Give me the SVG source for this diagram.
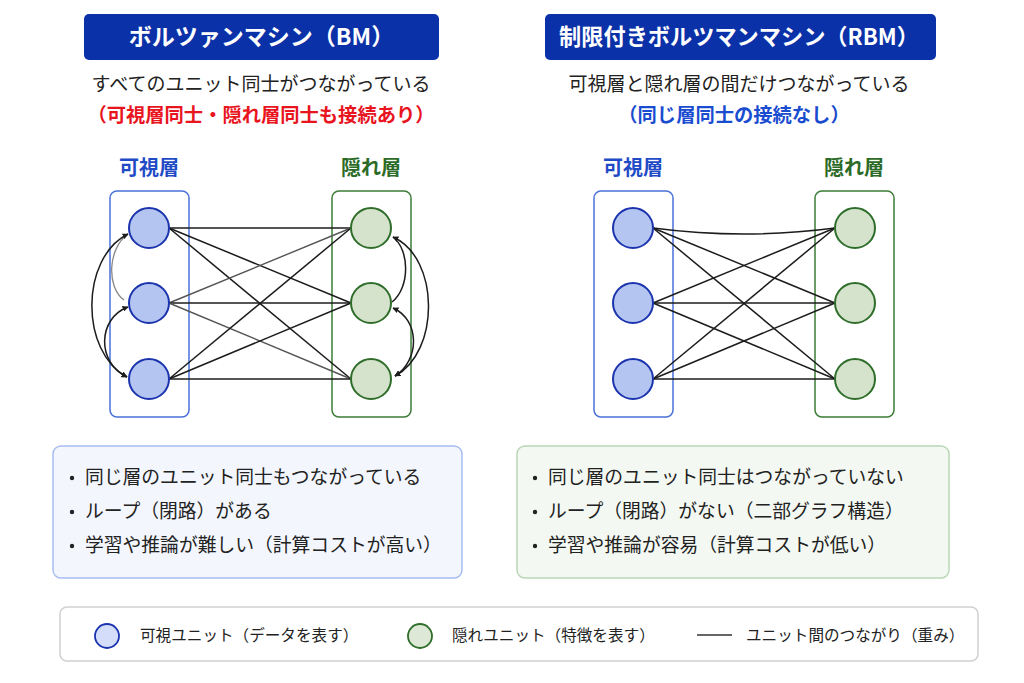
<svg xmlns="http://www.w3.org/2000/svg" width="1024" height="683" viewBox="0 0 1024 683">
<defs>
<style>
text{font-family:"Noto Sans CJK JP","Noto Sans",sans-serif;}
.title{fill:#ffffff;font-size:23px;font-weight:bold;}
.tbox{fill:#0b31a8;}
.sub{fill:#222;font-size:19px;}
.red{fill:#e8141e;font-size:19.3px;font-weight:bold;}
.blu{fill:#1a4cd0;font-size:19.3px;font-weight:bold;}
.vl{fill:#1f4bc6;font-size:20px;font-weight:bold;}
.hl{fill:#2b6b27;font-size:20px;font-weight:bold;}
.vbox{fill:none;stroke:#4a72d8;stroke-width:1.5;}
.hbox{fill:none;stroke:#3d7d38;stroke-width:1.5;}
.vc{fill:#b4c5f1;stroke:#1b34ae;stroke-width:2;}
.hc{fill:#d5e3cc;stroke:#2f6e2a;stroke-width:2;}
.ln{stroke:#1c1c1c;stroke-width:1.5;fill:none;}
.lg{stroke:#555;stroke-width:1.4;fill:none;}
.arc{stroke:#1c1c1c;stroke-width:1.5;fill:none;marker-start:url(#ah);marker-end:url(#ah);}
.bt{fill:#222;font-size:18.8px;}
.lt{fill:#222;font-size:15.6px;}
</style>
<marker id="ah" viewBox="0 0 10 10" refX="9" refY="5" markerWidth="6" markerHeight="6" orient="auto-start-reverse" markerUnits="userSpaceOnUse">
<path d="M0,0 L10,5 L0,10 z" fill="#1c1c1c"/>
</marker>
</defs>
<rect width="1024" height="683" fill="#ffffff"/>

<!-- BM header -->
<g id="bm-title">
<rect class="tbox" x="84" y="14" width="355" height="46" rx="5"/>
<text class="title" x="261.5" y="45" text-anchor="middle">ボルツァンマシン（BM）</text>
<text class="sub" x="261" y="91" text-anchor="middle">すべてのユニット同士がつながっている</text>
<text class="red" x="261" y="122" text-anchor="middle">（可視層同士・隠れ層同士も接続あり）</text>
</g>

<!-- RBM header -->
<g id="rbm-title">
<rect class="tbox" x="545" y="14" width="391" height="46" rx="5"/>
<text class="title" x="739" y="45" text-anchor="middle" style="font-size:22.2px">制限付きボルツマンマシン（RBM）</text>
<text class="sub" x="739" y="91" text-anchor="middle">可視層と隠れ層の間だけつながっている</text>
<text class="blu" x="734" y="122" text-anchor="middle">（同じ層同士の接続なし）</text>
</g>

<!-- BM layers -->
<g id="bm-visible">
<text class="vl" x="149" y="175" text-anchor="middle">可視層</text>
<rect class="vbox" x="110" y="191" width="79" height="226" rx="7"/>
</g>
<g id="bm-hidden">
<text class="hl" x="371" y="175" text-anchor="middle">隠れ層</text>
<rect class="hbox" x="332" y="191" width="79" height="226" rx="7"/>
</g>

<!-- BM connectors -->
<g id="bm-connectors">
<line class="ln" x1="169" y1="228" x2="351" y2="228"/>
<line class="ln" x1="169" y1="228" x2="351" y2="303"/>
<line class="ln" x1="169" y1="228" x2="351" y2="379"/>
<line class="lg" x1="169" y1="303" x2="351" y2="228"/>
<line class="ln" x1="169" y1="303" x2="351" y2="303"/>
<line class="lg" x1="169" y1="303" x2="351" y2="379"/>
<line class="ln" x1="169" y1="379" x2="351" y2="228"/>
<line class="ln" x1="169" y1="379" x2="351" y2="303"/>
<line class="ln" x1="169" y1="379" x2="351" y2="379"/>
<path d="M124,300 C106,287 108,248 128,234" stroke="#888" stroke-width="1.3" fill="none"/>
<path class="arc" d="M128,234 C80,258 80,352 127,377"/>
<path class="arc" d="M128,307 C98,318 96,362 127,377"/>
<path d="M392,302 C410,288 410,250 393,237" stroke="#1c1c1c" stroke-width="1.5" fill="none"/>
<path class="arc" d="M393,237 C440,258 440,352 395,376"/>
<path class="arc" d="M393,308 C420,320 420,360 395,376"/>
</g>

<!-- BM nodes -->
<g id="bm-v1"><circle class="vc" cx="149" cy="228" r="20"/></g>
<g id="bm-v2"><circle class="vc" cx="149" cy="303" r="20"/></g>
<g id="bm-v3"><circle class="vc" cx="149" cy="379" r="20"/></g>
<g id="bm-h1"><circle class="hc" cx="371" cy="228" r="20"/></g>
<g id="bm-h2"><circle class="hc" cx="371" cy="303" r="20"/></g>
<g id="bm-h3"><circle class="hc" cx="371" cy="379" r="20"/></g>

<!-- RBM layers -->
<g id="rbm-visible">
<text class="vl" x="633" y="175" text-anchor="middle">可視層</text>
<rect class="vbox" x="594" y="191" width="79" height="226" rx="7"/>
</g>
<g id="rbm-hidden">
<text class="hl" x="854" y="175" text-anchor="middle">隠れ層</text>
<rect class="hbox" x="815" y="191" width="79" height="226" rx="7"/>
</g>

<!-- RBM connectors -->
<g id="rbm-connectors">
<path class="ln" d="M653,228 Q744,240 835,228" stroke-width="1.3"/>
<line class="ln" x1="653" y1="228" x2="835" y2="303" stroke-width="1.3"/>
<line class="ln" x1="653" y1="228" x2="835" y2="379" stroke-width="1.3"/>
<line class="ln" x1="653" y1="303" x2="835" y2="228" stroke-width="1.3"/>
<line class="ln" x1="653" y1="303" x2="835" y2="303" stroke-width="1.3"/>
<line class="ln" x1="653" y1="303" x2="835" y2="379" stroke-width="1.3"/>
<line class="ln" x1="653" y1="379" x2="835" y2="228" stroke-width="1.3"/>
<line class="ln" x1="653" y1="379" x2="835" y2="303" stroke-width="1.3"/>
<line class="ln" x1="653" y1="379" x2="835" y2="379" stroke-width="1.3"/>
</g>

<!-- RBM nodes -->
<g id="rbm-v1"><circle class="vc" cx="633" cy="228" r="20"/></g>
<g id="rbm-v2"><circle class="vc" cx="633" cy="303" r="20"/></g>
<g id="rbm-v3"><circle class="vc" cx="633" cy="379" r="20"/></g>
<g id="rbm-h1"><circle class="hc" cx="855" cy="228" r="20"/></g>
<g id="rbm-h2"><circle class="hc" cx="855" cy="303" r="20"/></g>
<g id="rbm-h3"><circle class="hc" cx="855" cy="379" r="20"/></g>

<!-- BM notes -->
<g id="bm-notes">
<rect x="53" y="446" width="409" height="132" rx="8" fill="#f3f6fd" stroke="#a8bdf0" stroke-width="1.5"/>
<circle cx="72" cy="478" r="2.2" fill="#222"/>
<circle cx="72" cy="512" r="2.2" fill="#222"/>
<circle cx="72" cy="546" r="2.2" fill="#222"/>
<text class="bt" x="85" y="484">同じ層のユニット同士もつながっている</text>
<text class="bt" x="85" y="518">ループ（閉路）がある</text>
<text class="bt" x="85" y="552">学習や推論が難しい（計算コストが高い）</text>
</g>

<!-- RBM notes -->
<g id="rbm-notes">
<rect x="517" y="446" width="432" height="132" rx="8" fill="#f4f8f2" stroke="#bad6b6" stroke-width="1.5"/>
<circle cx="535" cy="478" r="2.2" fill="#222"/>
<circle cx="535" cy="512" r="2.2" fill="#222"/>
<circle cx="535" cy="546" r="2.2" fill="#222"/>
<text class="bt" x="548" y="484">同じ層のユニット同士はつながっていない</text>
<text class="bt" x="548" y="518">ループ（閉路）がない（二部グラフ構造）</text>
<text class="bt" x="548" y="552">学習や推論が容易（計算コストが低い）</text>
</g>

<!-- Legend -->
<g id="legend">
<rect x="60" y="607" width="918" height="54" rx="7" fill="#ffffff" stroke="#d0d0d0" stroke-width="1.5"/>
<ellipse cx="107" cy="636" rx="12" ry="12" fill="#d4defa" stroke="#1b34ae" stroke-width="1.8"/>
<text class="lt" x="140" y="641">可視ユニット（データを表す）</text>
<ellipse cx="420" cy="636" rx="12" ry="12" fill="#dde9d6" stroke="#2f6e2a" stroke-width="1.8"/>
<text class="lt" x="452" y="641">隠れユニット（特徴を表す）</text>
<line x1="697" y1="635" x2="732" y2="635" stroke="#333" stroke-width="1.5"/>
<text class="lt" x="746" y="641">ユニット間のつながり（重み）</text>
</g>
</svg>
